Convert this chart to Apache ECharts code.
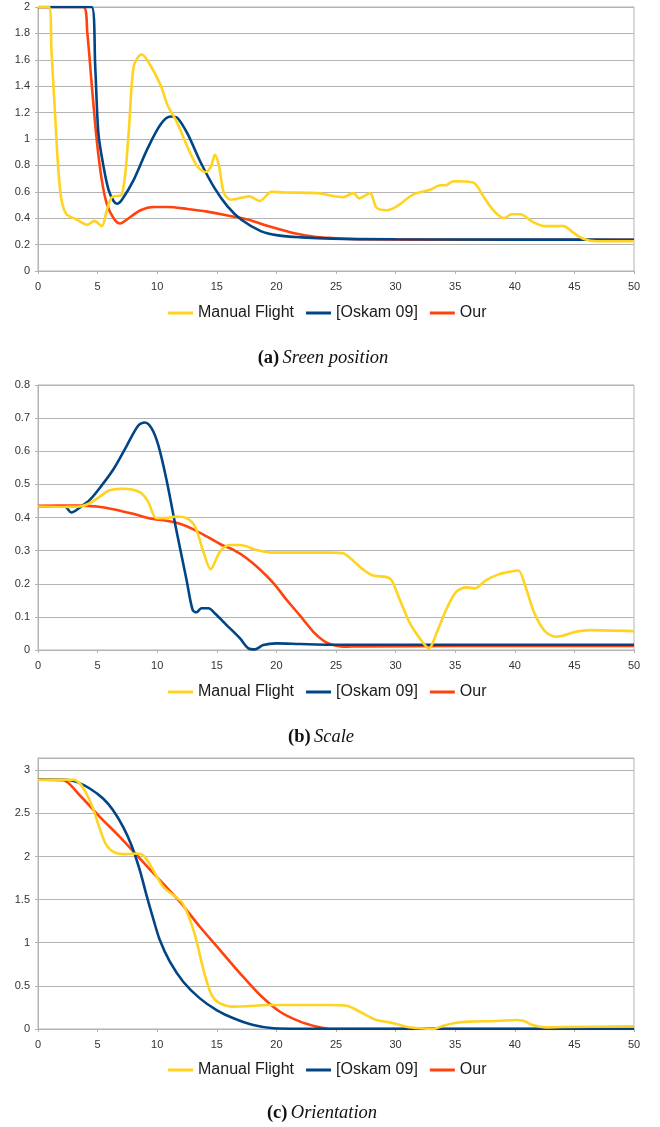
<!DOCTYPE html>
<html>
<head>
<meta charset="utf-8">
<script src="https://cdn.jsdelivr.net/npm/echarts@6/dist/echarts.min.js"></script>
<style>html,body{margin:0;padding:0;background:#fff}#c{width:660px;height:1127px}</style>
</head>
<body>
<div id="c"></div>
<script>
// ---- data (x = time, y = value) ----
var seriesNames = ['Manual Flight', '[Oskam 09]', 'Our'];
var xTicks = [0, 5, 10, 15, 20, 25, 30, 35, 40, 45, 50];

// (a) Screen position
var manualPos = [[0,2],[0.93,2],[1.13,1.67],[1.41,1.22],[1.69,0.79],[1.97,0.54],[2.39,0.43],[3.24,0.39],[4.14,0.35],[4.73,0.38],[5.35,0.34],[5.77,0.46],[6.2,0.56],[7.04,0.58],[7.6,1.04],[8.03,1.55],[8.68,1.64],[9.15,1.60],[10.28,1.41],[10.85,1.26],[11.69,1.12],[12.54,0.94],[13.38,0.79],[14.08,0.75],[14.5,0.79],[14.85,0.88],[15.2,0.79],[15.6,0.59],[16.2,0.54],[17.75,0.565],[18.6,0.53],[19.6,0.60],[20.7,0.595],[23.5,0.59],[24.6,0.57],[25.6,0.56],[26.45,0.59],[26.95,0.55],[27.85,0.59],[28.4,0.48],[29.25,0.46],[30.1,0.49],[31.5,0.58],[32.9,0.615],[33.75,0.65],[34.2,0.65],[34.85,0.68],[36.5,0.67],[37.4,0.56],[38.2,0.46],[39.1,0.40],[39.75,0.43],[40.45,0.43],[41.55,0.37],[42.55,0.34],[44.1,0.34],[44.9,0.29],[45.75,0.245],[46.85,0.225],[50,0.225]];
var oskamPos = [[0,2],[4.5,2],[4.8,1.55],[5.07,1.04],[5.5,0.79],[5.92,0.615],[6.34,0.53],[6.62,0.51],[7.04,0.54],[8.03,0.69],[9.15,0.92],[10.28,1.11],[11.13,1.17],[11.69,1.16],[12.54,1.04],[13.66,0.82],[14.8,0.63],[15.9,0.49],[17.04,0.39],[18.73,0.30],[20.14,0.27],[22.1,0.255],[24.65,0.245],[30,0.24],[40,0.238],[50,0.237]];
var ourPos = [[0,2],[3.8,2],[4.14,1.80],[4.5,1.42],[4.93,0.99],[5.35,0.69],[5.77,0.51],[6.34,0.40],[6.9,0.36],[7.46,0.39],[8.6,0.46],[9.72,0.485],[10.85,0.485],[12.54,0.47],[14.2,0.45],[15.9,0.42],[17.6,0.39],[19.3,0.34],[21.3,0.29],[23.2,0.26],[24.65,0.25],[27,0.24],[35,0.237],[50,0.237]];

// (b) Scale
var manualScale = [[0,0.433],[2.8,0.432],[3.5,0.433],[4.34,0.443],[5.18,0.463],[6.0,0.482],[7.0,0.487],[7.98,0.484],[8.68,0.473],[9.24,0.448],[9.94,0.398],[10.78,0.398],[11.6,0.403],[12.46,0.398],[13.17,0.373],[13.87,0.297],[14.48,0.244],[15.27,0.297],[16.1,0.317],[16.95,0.317],[18.35,0.302],[19.75,0.294],[22,0.294],[24.5,0.294],[25.6,0.292],[26.3,0.274],[27.3,0.242],[28.1,0.225],[29.25,0.22],[29.67,0.21],[30.36,0.151],[31.2,0.081],[32.03,0.035],[32.8,0.005],[33.42,0.05],[34.3,0.126],[35.1,0.176],[35.95,0.189],[36.63,0.186],[37.6,0.211],[38.7,0.229],[39.7,0.237],[40.3,0.24],[40.9,0.191],[41.65,0.111],[42.5,0.058],[43.45,0.04],[44.0,0.043],[45.1,0.055],[46.3,0.06],[50,0.057]];
var oskamScale = [[0,0.433],[2.24,0.433],[2.8,0.415],[3.5,0.43],[4.34,0.453],[5.18,0.489],[6.3,0.544],[7.42,0.615],[8.4,0.677],[8.96,0.687],[9.52,0.67],[10.08,0.62],[10.78,0.514],[11.6,0.363],[12.46,0.212],[12.97,0.121],[13.3,0.114],[13.7,0.126],[14.3,0.126],[14.85,0.11],[15.8,0.076],[16.95,0.035],[17.65,0.005],[18.2,0.002],[18.9,0.015],[20.0,0.02],[22,0.018],[24.5,0.016],[30,0.016],[50,0.016]];
var ourScale = [[0,0.435],[3.5,0.436],[4.9,0.433],[6.3,0.425],[7.98,0.411],[9.38,0.397],[10.78,0.39],[11.9,0.381],[13.0,0.365],[14.15,0.343],[15.27,0.32],[16.4,0.302],[17.5,0.277],[18.6,0.244],[19.75,0.202],[20.87,0.151],[22,0.103],[23.1,0.055],[23.95,0.028],[24.5,0.018],[25.6,0.01],[27,0.011],[35,0.012],[50,0.012]];

// (c) Orientation
var manualOri = [[0,2.89],[2.94,2.89],[3.5,2.846],[4.06,2.73],[4.62,2.556],[5.18,2.324],[5.74,2.131],[6.44,2.046],[7.42,2.027],[8.4,2.035],[8.96,1.996],[9.66,1.842],[10.5,1.649],[11.34,1.552],[12.04,1.475],[12.6,1.32],[13.17,1.089],[13.58,0.857],[14.0,0.625],[14.57,0.394],[15.27,0.297],[16.4,0.259],[17.5,0.263],[19.2,0.278],[20.87,0.278],[24.5,0.278],[25.9,0.27],[27.0,0.2],[28.4,0.104],[29.5,0.077],[30.9,0.027],[32,0.008],[33.15,0],[34,0.039],[35.1,0.073],[36.2,0.085],[38.45,0.093],[40.1,0.104],[40.7,0.097],[41.5,0.046],[42.6,0.019],[44,0.023],[50,0.031]];
var oskamOri = [[0,2.892],[2.24,2.89],[3.22,2.865],[4.34,2.788],[5.46,2.672],[6.3,2.537],[7.14,2.344],[7.84,2.131],[8.54,1.842],[9.1,1.552],[9.66,1.282],[10.22,1.031],[11.06,0.78],[12.18,0.548],[13.58,0.355],[14.98,0.22],[16.4,0.124],[18.06,0.046],[19.75,0.008],[22,0.003],[50,0.003]];
var ourOri = [[0,2.89],[2.1,2.884],[3.5,2.71],[5.18,2.46],[6.86,2.228],[8.54,1.977],[10.22,1.726],[11.9,1.475],[13.58,1.185],[15.27,0.915],[16.95,0.645],[18.63,0.394],[20.3,0.2],[22,0.085],[23.4,0.027],[24.5,0.0],[50,0.0]];

var colors = ['#FFD320', '#004586', '#FF420E'];
var grey = '#b3b3b3';
var labelColor = '#333';

var panels = [
  {top: 7, height: 264, max: 2, interval: 0.2, legendY: 313, capY: 358, capX: 323, tag: '(a)', cap: 'Sreen position', data: [manualPos, oskamPos, ourPos]},
  {top: 385, height: 265, max: 0.8, interval: 0.1, legendY: 692, capY: 737, capX: 321, tag: '(b)', cap: 'Scale', data: [manualScale, oskamScale, ourScale]},
  {top: 758, height: 271, max: Math.PI, interval: 0.5, legendY: 1070, capY: 1113, capX: 322, tag: '(c)', cap: 'Orientation', data: [manualOri, oskamOri, ourOri]}
];

var option = {animation: false, grid: [], xAxis: [], yAxis: [], series: [], legend: [], graphic: []};
var zOrder = [4, 3, 2];
panels.forEach(function (p, i) {
  option.grid.push({left: 38, width: 596, top: p.top, height: p.height, show: true, borderColor: grey, borderWidth: 1, containLabel: false});
  option.xAxis.push({
    type: 'value', gridIndex: i, min: 0, max: 50, interval: 5,
    axisLine: {show: true, onZero: false, lineStyle: {color: grey, width: 1}},
    axisTick: {show: true, length: 3, lineStyle: {color: grey}},
    splitLine: {show: false},
    axisLabel: {color: labelColor, fontSize: 11, fontFamily: 'Liberation Sans, Arial, sans-serif', margin: 10}
  });
  option.yAxis.push({
    type: 'value', gridIndex: i, min: 0, max: p.max, interval: p.interval,
    axisLine: {show: true, lineStyle: {color: grey, width: 1}},
    axisTick: {show: true, length: 3, lineStyle: {color: grey}},
    splitLine: {show: true, lineStyle: {color: grey, width: 1}},
    axisLabel: {color: labelColor, fontSize: 11, fontFamily: 'Liberation Sans, Arial, sans-serif', margin: 8, showMaxLabel: p.max === Math.PI ? false : true}
  });
  p.data.forEach(function (d, k) {
    option.series.push({
      name: seriesNames[k], type: 'line', xAxisIndex: i, yAxisIndex: i, data: d,
      smooth: 0.3, showSymbol: false, symbol: 'none', z: zOrder[k], color: colors[k],
      lineStyle: {width: 2.6, color: colors[k]}
    });
  });
  option.legend.push({
    data: seriesNames, left: 168, top: p.legendY - 8, padding: 0, itemGap: 12,
    icon: 'rect', itemWidth: 25, itemHeight: 3,
    textStyle: {fontSize: 16, color: '#1a1a1a', fontFamily: 'Liberation Sans, Arial, sans-serif'}
  });
  option.graphic.push({
    type: 'text', x: p.capX, y: p.capY,
    style: {
      text: '{b|' + p.tag + '} {i|' + p.cap + '}',
      align: 'center', verticalAlign: 'middle',
      rich: {
        b: {fontFamily: 'Liberation Serif, Times New Roman, serif', fontWeight: 'bold', fontSize: 18.5, fill: '#111'},
        i: {fontFamily: 'Liberation Serif, Times New Roman, serif', fontStyle: 'italic', fontSize: 18.5, fill: '#111'}
      }
    }
  });
});

var chart = echarts.init(document.getElementById('c'), null, {renderer: 'canvas'});
chart.setOption(option);
</script>
</body>
</html>
